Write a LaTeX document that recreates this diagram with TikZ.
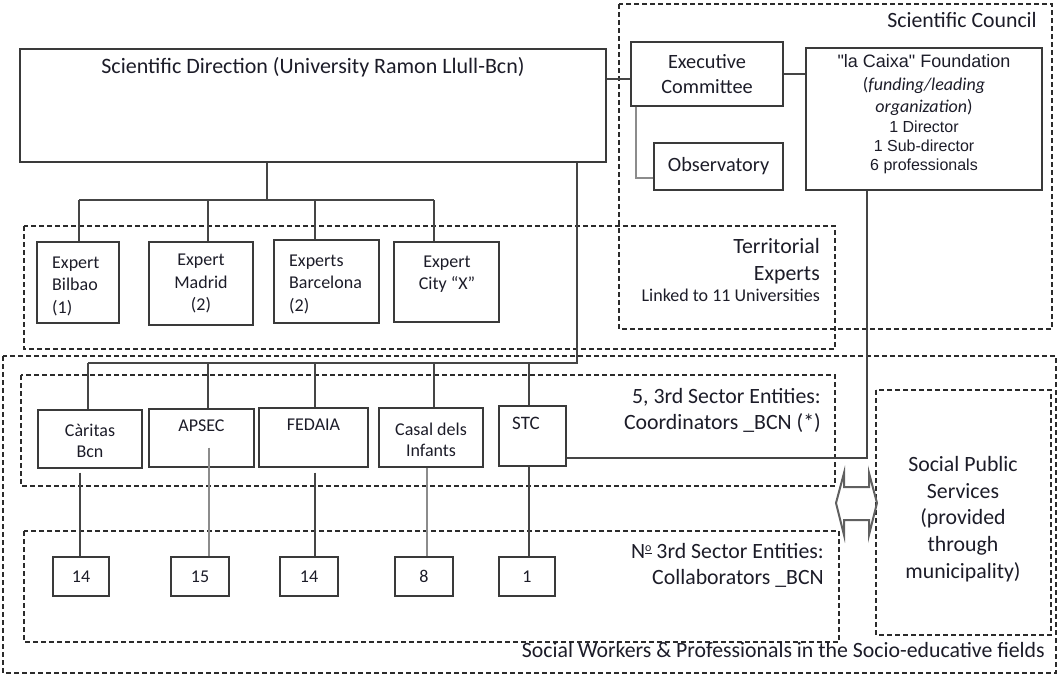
\documentclass[tikz,border=0pt]{standalone}
\usepackage{fontspec}
\setmainfont{Carlito}
\newfontfamily\arialf{Liberation Sans}
\definecolor{boxc}{HTML}{3A3A3A}
\definecolor{linec}{HTML}{454545}
\definecolor{lgray}{HTML}{8C8C8C}
\definecolor{dashc}{HTML}{2B2B2B}
\definecolor{txtc}{HTML}{1C1C28}
\newcommand{\ordo}{\raisebox{0.62ex}{\fontsize{12}{12}\selectfont\underline{o}}}
\begin{document}
\begin{tikzpicture}[x=1pt,y=-1pt,
  box/.style={draw=boxc, line width=1.3pt, inner sep=0pt},
  grp/.style={draw=dashc, line width=1.1pt, dash pattern=on 5pt off 3pt},
  conn/.style={draw=linec, line width=1.4pt},
  lconn/.style={draw=lgray, line width=1.4pt},
  big/.style={text=txtc, inner sep=0pt, font=\fontsize{20.3}{25}\selectfont},
  lab/.style={text=txtc, inner sep=0pt, font=\fontsize{21.8}{26.75}\selectfont},
  mid/.style={text=txtc, inner sep=0pt, font=\fontsize{18}{22.5}\selectfont},
  ar/.style={text=txtc, inner sep=0pt, font=\arialf\fontsize{16}{19.5}\selectfont},
  dbl/.style={draw=gray!75!black, line width=2pt, line join=miter}]
\useasboundingbox (0,0) rectangle (1059,675);

% ---------- dashed groups ----------
\draw[grp] (619,4) rectangle (1052,329);
\draw[grp] (24,226) rectangle (835,349);
\draw[grp] (3,356) rectangle (1056,673);
\draw[grp] (21,375) rectangle (835,486);
\draw[grp] (24,531) rectangle (839,642);
\draw[grp] (876,390) rectangle (1051,635);

% ---------- group labels ----------
\node[lab, anchor=mid east] (sclab) at (1037,25) {Scientific Council};
\node[lab, anchor=east, align=right] (terrlab) at (820,261.5) {Territorial\\Experts};
\node[text=txtc, inner sep=0pt, font=\fontsize{18}{21}\selectfont, anchor=mid east] (linked) at (820,299) {Linked to 11 Universities};
\node[lab, anchor=east, align=right] (coordlab) at (821,410.5) {5, 3rd Sector Entities:\\Coordinators \_BCN (*)};
\node[lab, anchor=east, align=right] (collablab) at (824,565.5) {N\ordo{} 3rd Sector Entities:\\Collaborators \_BCN};
\node[lab, anchor=mid east] (swlab) at (1045,655) {Social Workers \& Professionals in the Socio-educative fields};
\node[lab, align=center] (spstext) at (963,519) {Social Public\\Services\\(provided\\through\\municipality)};

% ---------- top boxes ----------
\node[box, minimum width=586pt, minimum height=113pt] (sd) at (313,105.5) {};
\node[text=txtc, inner sep=0pt, font=\fontsize{22}{26}\selectfont, anchor=mid] (sdlabel) at (313,71) {Scientific Direction (University Ramon Llull-Bcn)};
\node[box, big, align=center, minimum width=152pt, minimum height=64pt] (ec) at (707,74) {Executive\\Committee};
\node[box, big, minimum width=129pt, minimum height=47pt] (obs) at (718.5,166.5) {Observatory};
\node[box, minimum width=236pt, minimum height=142pt] (lc) at (924,119) {};
\node[text=txtc, inner sep=0pt, font=\arialf\fontsize{18}{22}\selectfont, anchor=mid] (lc1) at (924,65) {"la Caixa" Foundation};
\node[text=txtc, inner sep=0pt, font=\fontsize{18}{22}\selectfont, anchor=mid] (lc2) at (924,88) {(\textit{funding/leading}};
\node[text=txtc, inner sep=0pt, font=\fontsize{18}{22}\selectfont, anchor=mid] (lc3) at (924,110) {\textit{organization})};
\node[ar, anchor=mid] (lc4) at (924,130) {1 Director};
\node[ar, anchor=mid] (lc5) at (924,149) {1 Sub-director};
\node[ar, anchor=mid] (lc6) at (924,168) {6 professionals};

% ---------- territorial experts ----------
\node[box, minimum width=82pt, minimum height=81pt] (bilbao) at (78,282.5) {};
\node[mid, align=left, anchor=west] (bilbaot) at (52,286) {Expert\\Bilbao\\(1)};
\node[box, mid, align=center, minimum width=104pt, minimum height=83pt] (madrid) at (201,283.5) {Expert\\Madrid\\(2)};
\node[box, minimum width=105pt, minimum height=83pt] (barcelona) at (326.5,281.5) {};
\node[mid, align=left, anchor=west] (barcelonat) at (289,284) {Experts\\Barcelona\\(2)};
\node[box, minimum width=105pt, minimum height=80pt] (cityx) at (446.5,282) {};
\node[mid, align=center] (cityxt) at (447,274) {Expert\\City “X”};

% ---------- coordinators ----------
\node[box, minimum width=104pt, minimum height=58pt] (caritas) at (90,439) {};
\node[mid, align=center, font=\fontsize{18}{21}\selectfont] (caritast) at (90,440.5) {Càritas\\Bcn};
\node[box, minimum width=105pt, minimum height=58pt] (apsec) at (201.5,438) {};
\node[mid, anchor=mid] (apsect) at (201.5,429) {APSEC};
\node[box, minimum width=109pt, minimum height=59pt] (fedaia) at (313.5,437.5) {};
\node[mid, anchor=mid] (fedaiat) at (313.5,428) {FEDAIA};
\node[box, minimum width=104pt, minimum height=59pt] (casal) at (431,437.5) {};
\node[mid, align=center, font=\fontsize{18}{21}\selectfont] (casalt) at (431,439.5) {Casal dels\\Infants};
\node[box, minimum width=67pt, minimum height=60pt] (stc) at (532.5,436) {};
\node[text=txtc, inner sep=0pt, font=\fontsize{19}{22}\selectfont, anchor=mid] (stct) at (526,427) {STC};

% ---------- collaborators ----------
\node[box, mid, minimum width=56pt, minimum height=39pt] (n1) at (81,576.5) {14};
\node[box, mid, minimum width=58pt, minimum height=39pt] (n2) at (200,576.5) {15};
\node[box, mid, minimum width=58pt, minimum height=39pt] (n3) at (309,576.5) {14};
\node[box, mid, minimum width=58pt, minimum height=39pt] (n4) at (424,576.5) {8};
\node[box, mid, minimum width=56pt, minimum height=39pt] (n5) at (527,576.5) {1};

% ---------- connectors ----------
\draw[conn] (sd.east |- 0,79) -- (ec.west |- 0,79);
\draw[conn] (ec.east) -- (lc.west |- ec.east);
\draw[lconn] (ec.south -| 636,0) |- (obs.west |- 0,178);

\coordinate (t0) at (267,200);
\coordinate (t1) at (79,200);
\coordinate (t2) at (208,200);
\coordinate (t3) at (315,200);
\coordinate (t4) at (434,200);
\draw[conn] (sd.south -| t0) -- (t0);
\draw[conn] (t1) -- (t4);
\draw[conn] (t1) -- (bilbao.north -| t1);
\draw[conn] (t2) -- (madrid.north -| t2);
\draw[conn] (t3) -- (barcelona.north -| t3);
\draw[conn] (t4) -- (cityx.north -| t4);

\coordinate (c0) at (577,363);
\coordinate (c1) at (88,363);
\coordinate (c2) at (208,363);
\coordinate (c3) at (315,363);
\coordinate (c4) at (434,363);
\coordinate (c5) at (529,363);
\draw[conn] (sd.south -| c0) -- (c0) -- (c1);
\draw[conn] (c1) -- (caritas.north -| c1);
\draw[conn] (c2) -- (apsec.north -| c2);
\draw[conn] (c3) -- (fedaia.north -| c3);
\draw[conn] (c4) -- (casal.north -| c4);
\draw[conn] (c5) -- (stc.north -| c5);

\draw[conn] ([yshift=-4pt]caritas.south -| 80,0) -- (n1.north -| 80,0);
\draw[lconn] ([yshift=20pt]apsec.south -| 209,0) -- (n2.north -| 209,0);
\draw[conn] ([yshift=-5pt]fedaia.south -| 315,0) -- (n3.north -| 315,0);
\draw[lconn] (casal.south -| 427,0) -- (n4.north -| 427,0);
\draw[conn] (stc.south -| 529,0) -- (n5.north -| 529,0);

\draw[conn] (lc.south -| 867,0) |- (stc.east |- 0,458);

% ---------- double arrow ----------
\draw[dbl] (836,503) -- (844,473) -- (844,487) -- (869,487) -- (869,473) -- (877,503)
  -- (869,535) -- (869,520) -- (844,520) -- (844,535) -- cycle;
\end{tikzpicture}
\end{document}
